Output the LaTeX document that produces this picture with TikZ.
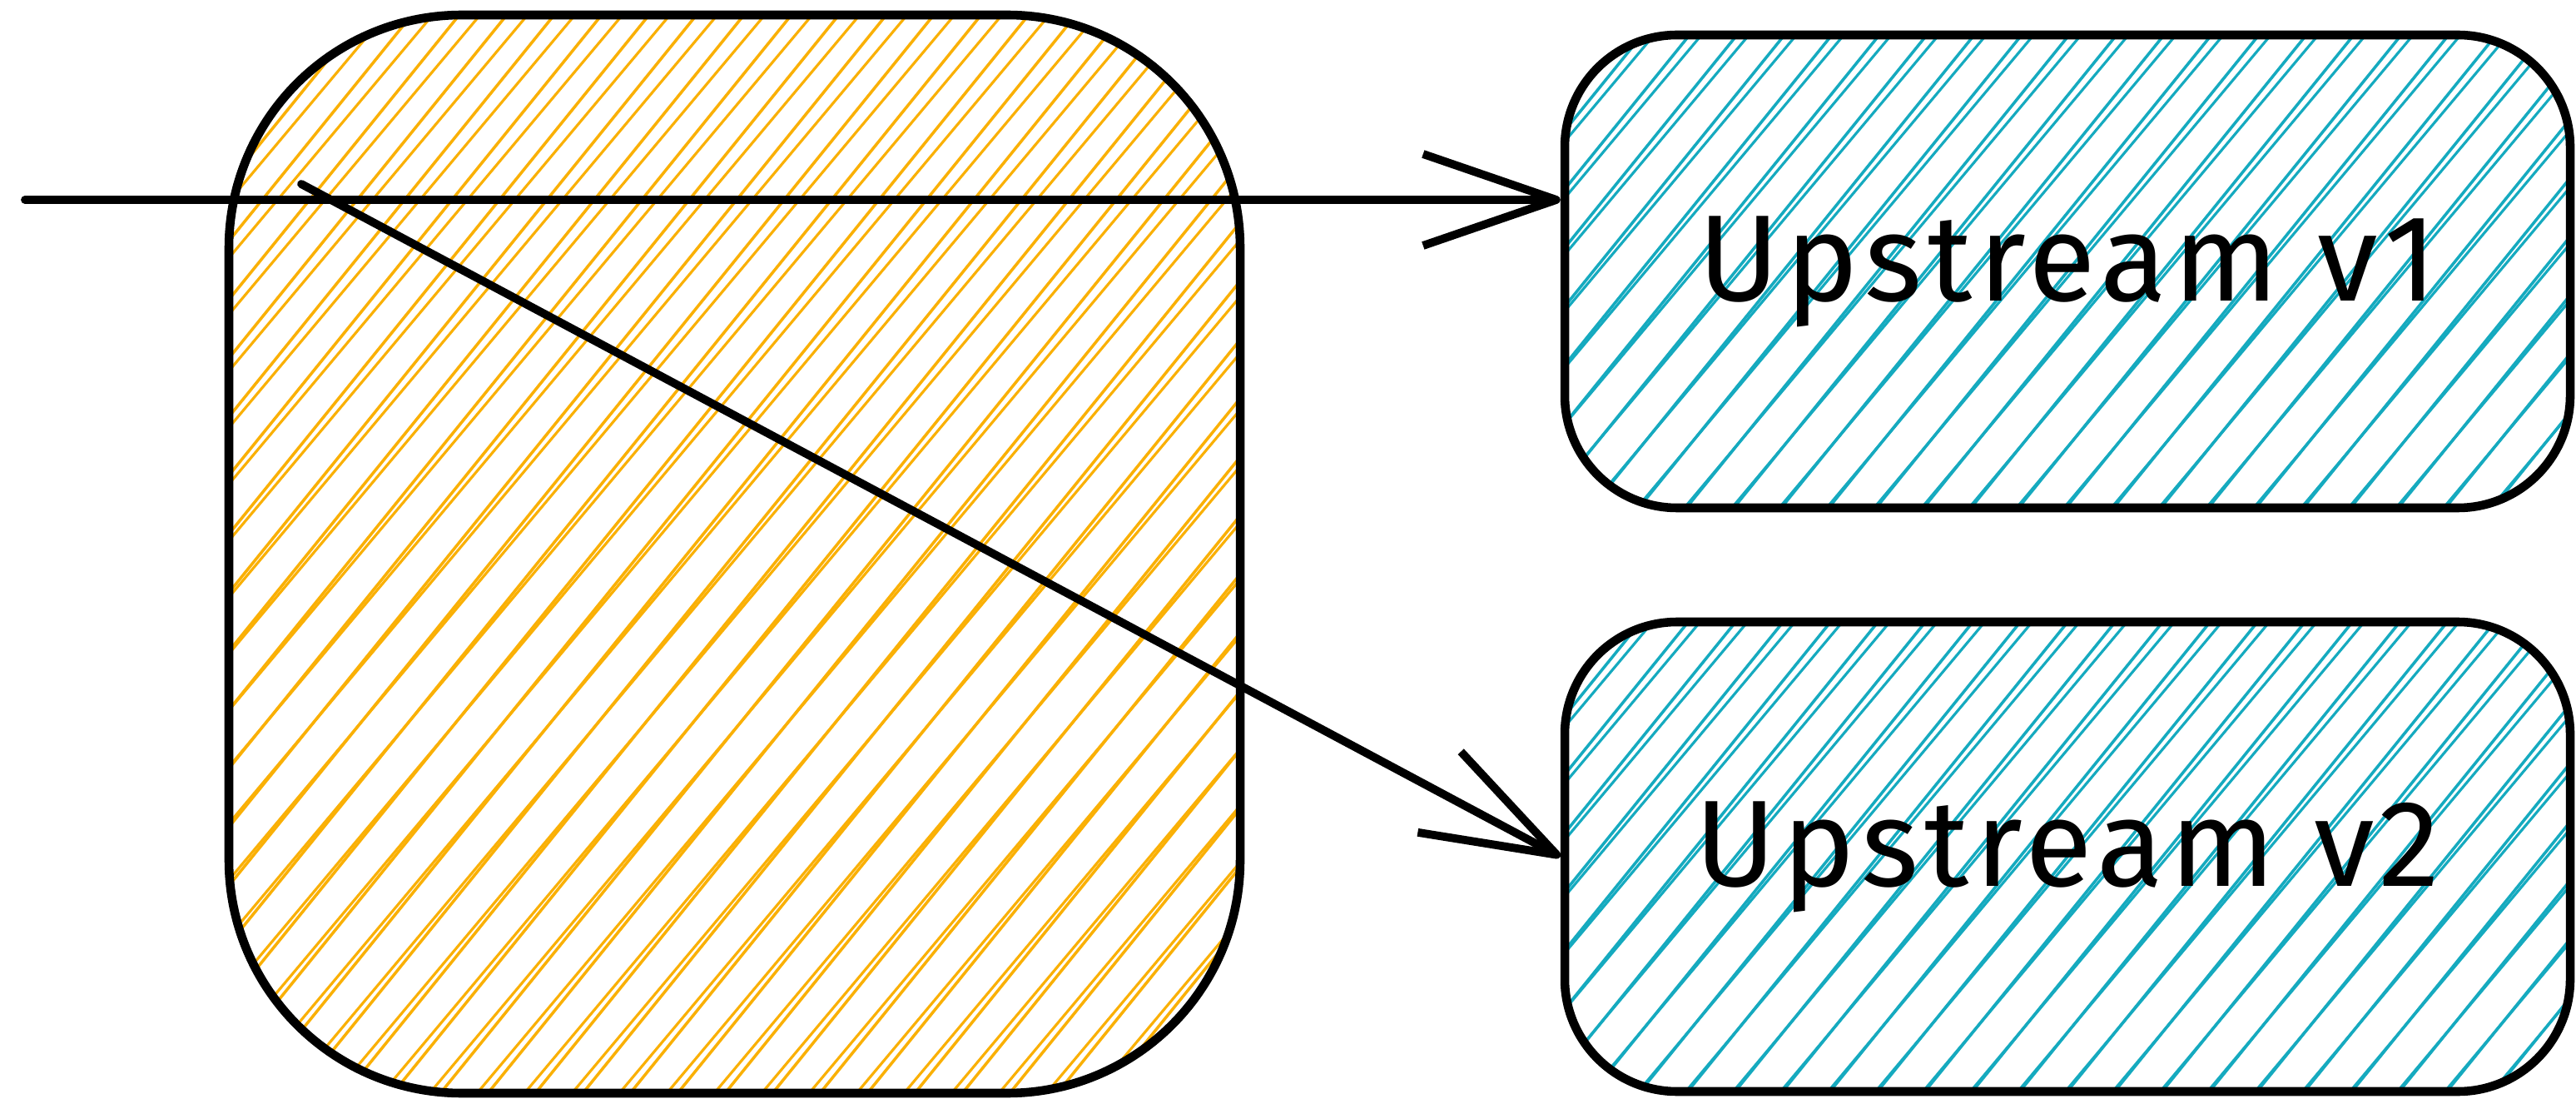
\documentclass[tikz,border=0pt]{standalone}
\usepackage{fontspec}
\setmainfont{Fira Sans}
\newfontfamily\handfont[LetterSpace = 5]{Fira Sans}
\usetikzlibrary{arrows.meta}
\definecolor{hatchorange}{HTML}{FAB005}
\definecolor{hatchcyan}{HTML}{15AABF}
\tikzset{
    hatchbox/.style = {draw = black, line width = 3pt, inner sep = 0pt,
        font = \handfont\fontsize{42}{50}\selectfont},
    hatch/.style = {path picture = {
        \foreach \k in {-22,...,22} {
            \draw[#1, line width = 1pt]
                ([shift = {(\k*0.57,0)}]path picture bounding box.center) ++(231:9.5) -- ++(51:19);
            \draw[#1, line width = 0.9pt]
                ([shift = {(\k*0.57+0.06,0)}]path picture bounding box.center) ++(230:9.5) -- ++(50:19);
        }}},
    flow/.style = {line width = 2.8pt, line cap = round,
        -{Straight Barb[length = 16mm, width = 11mm, line join = round]}}
}
\begin{document}
\begin{tikzpicture}
            % Fix the page
            \useasboundingbox[fill = white] (0,0) rectangle (30.95,-13.2);

            % Draw the big box
            \node[hatchbox, hatch = hatchorange, rounded corners = 2.8cm,
                minimum width = 12.15cm, minimum height = 12.95cm] (gateway) at (8.825,-6.655) {};

            % Draw the two upstreams
            \node[hatchbox, hatch = hatchcyan, rounded corners = 1.35cm,
                minimum width = 12.08cm, minimum height = 5.68cm] (upv1) at (24.84,-3.26) {Upstream v1};
            \node[hatchbox, hatch = hatchcyan, rounded corners = 1.35cm,
                minimum width = 12.08cm, minimum height = 5.64cm] (upv2) at (24.84,-10.29) {Upstream v2};

            % Draw the arrows
            \coordinate (src) at (0.30,-2.40);
            \coordinate (split) at (3.62,-2.21);
            \draw[flow] (src) -- (src -| upv1.west);  % <---
            \draw[flow] (split) -- (upv2.west);  % <---

        \end{tikzpicture}
\end{document}
